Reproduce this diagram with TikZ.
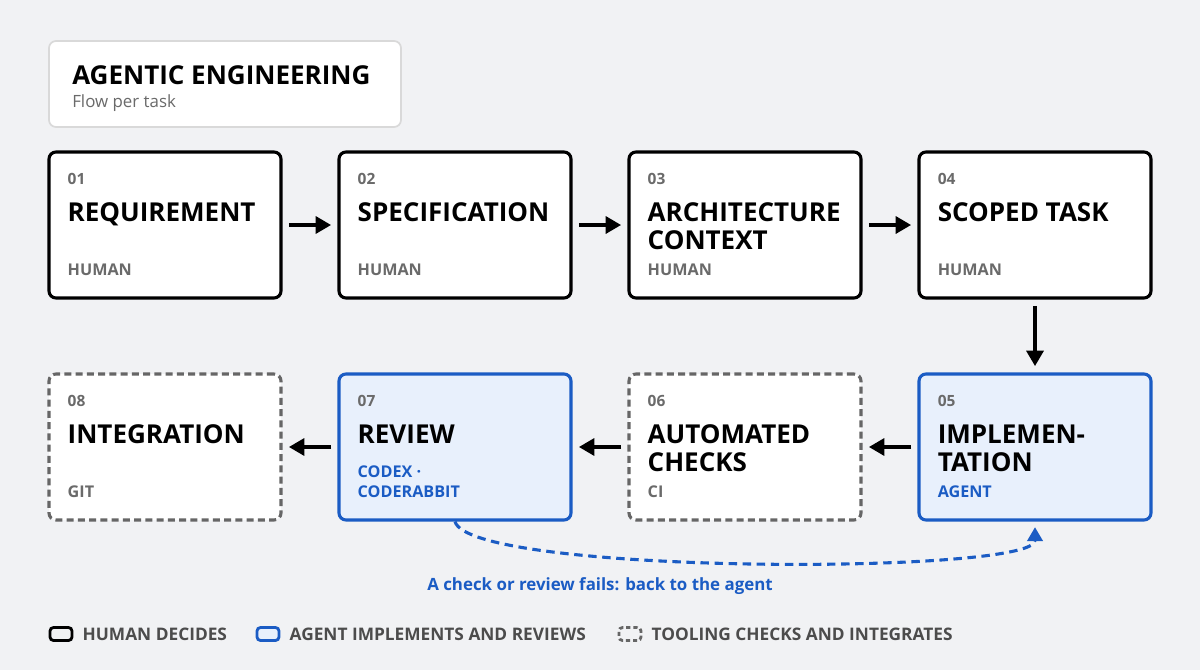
\documentclass[tikz,border=0pt]{standalone}
\usepackage{fontspec}
\setmainfont{Open Sans}
\usetikzlibrary{arrows.meta,positioning}
\definecolor{bgGray}{HTML}{F1F2F4}
\definecolor{agentBlue}{HTML}{1B5CC4}
\definecolor{agentFill}{HTML}{E8F0FC}
\definecolor{toolGray}{HTML}{666666}
\definecolor{roleGray}{HTML}{6A6A6A}
\tikzset{
  boxStyle/.style={rectangle, rounded corners=5, draw=black, line width=2.2, fill=white, minimum width=232*0.025cm, minimum height=146*0.025cm},
  agentBox/.style={boxStyle, draw=agentBlue, fill=agentFill},
  toolBox/.style={boxStyle, draw=toolGray, dash pattern=on 5pt off 3pt},
  numStyle/.style={anchor=base west, inner sep=0, font=\fontsize{11}{11}\selectfont\bfseries, text=roleGray},
  titleStyle/.style={anchor=north west, inner sep=0, align=left, font=\fontsize{18.5}{20}\selectfont\bfseries},
  roleStyle/.style={anchor=base west, inner sep=0, align=left, font=\fontsize{11.5}{14}\selectfont\bfseries, text=roleGray},
  flowArrow/.style={-{Triangle[length=11pt,width=12pt]}, line width=2.6, shorten >=4.5pt, shorten <=4.5pt}
}
\begin{document}
\begin{tikzpicture}[x=0.025cm, y=-0.025cm]
  \fill[bgGray] (0,0) rectangle (1200,670);
  \useasboundingbox (0,0) rectangle (1200,670);
  % title
  \node[rectangle, rounded corners=5, draw=black!15, line width=1.2, fill=white, minimum width=352*0.025cm, minimum height=86*0.025cm] (title) at (225,84) {};
  \node[anchor=base west, inner sep=0, font=\fontsize{18.5}{20}\selectfont\bfseries] (titleText) at (72,84) {AGENTIC ENGINEERING};
  \node[anchor=base west, inner sep=0, font=\fontsize{12}{12}\selectfont, text=roleGray] (subText) at (72,107) {Flow per task};
  % boxes
  \node[boxStyle] (req)  at (165,225) {};
  \node[boxStyle] (spec) at (455,225) {};
  \node[boxStyle] (arch) at (745,225) {};
  \node[boxStyle] (task) at (1035,225) {};
  \node[agentBox] (impl) at (1035,447) {};
  \node[toolBox]  (ci)   at (745,447) {};
  \node[agentBox] (rev)  at (455,447) {};
  \node[toolBox]  (git)  at (165,447) {};
  % texts
  \foreach \b/\n/\t/\r/\c in {req/01/REQUIREMENT/HUMAN/roleGray, spec/02/SPECIFICATION/HUMAN/roleGray, arch/03/ARCHITECTURE\\CONTEXT/HUMAN/roleGray, task/04/SCOPED TASK/HUMAN/roleGray, impl/05/IMPLEMEN-\\TATION/AGENT/agentBlue, ci/06/AUTOMATED\\CHECKS/CI/roleGray, rev/07/REVIEW/CODEX ·\\CODERABBIT/agentBlue, git/08/INTEGRATION/GIT/roleGray}{
    \node[numStyle] at ([xshift=20*0.025cm, yshift=-34*0.025cm]\b.north west) {\n};
    \node[titleStyle] at ([xshift=20*0.025cm, yshift=-52*0.025cm]\b.north west) {\t};
    \node[roleStyle, text=\c] at ([xshift=20*0.025cm, yshift=-125*0.025cm]\b.north west) {\r};
  }
  % arrows
  \draw[flowArrow] (req) -- (spec);
  \draw[flowArrow] (spec) -- (arch);
  \draw[flowArrow] (arch) -- (task);
  \draw[flowArrow] (task) -- (impl);
  \draw[flowArrow] (impl) -- (ci);
  \draw[flowArrow] (ci) -- (rev);
  \draw[flowArrow] (rev) -- (git);
  % feedback
  \draw[agentBlue, line width=2.2, dash pattern=on 6pt off 4pt, -{Triangle[length=10pt,width=11pt]}, shorten >=4pt] (rev.south) .. controls (470,575) and (1035,575) .. (impl.south);
  \node[font=\fontsize{12}{12}\selectfont\bfseries, text=agentBlue, anchor=base] (fbText) at (600,590) {A check or review fails: back to the agent};
  % legend
  \node[rectangle, rounded corners=2.5, draw=black, line width=2, minimum width=22*0.025cm, minimum height=13*0.025cm, inner sep=0] (lgHuman) at (61,634) {};
  \node[right=9*0.025cm of lgHuman, inner sep=0, font=\fontsize{12.3}{12}\selectfont\bfseries, text=black!70] {HUMAN DECIDES};
  \node[rectangle, rounded corners=2.5, draw=agentBlue, fill=agentFill, line width=2, minimum width=22*0.025cm, minimum height=13*0.025cm, inner sep=0] (lgAgent) at (268,634) {};
  \node[right=9*0.025cm of lgAgent, inner sep=0, font=\fontsize{12.3}{12}\selectfont\bfseries, text=black!70] {AGENT IMPLEMENTS AND REVIEWS};
  \node[rectangle, rounded corners=2.5, draw=toolGray, dash pattern=on 3pt off 2pt, line width=2, minimum width=22*0.025cm, minimum height=13*0.025cm, inner sep=0] (lgTool) at (630,634) {};
  \node[right=9*0.025cm of lgTool, inner sep=0, font=\fontsize{12.3}{12}\selectfont\bfseries, text=black!70] {TOOLING CHECKS AND INTEGRATES};
\end{tikzpicture}
\end{document}
